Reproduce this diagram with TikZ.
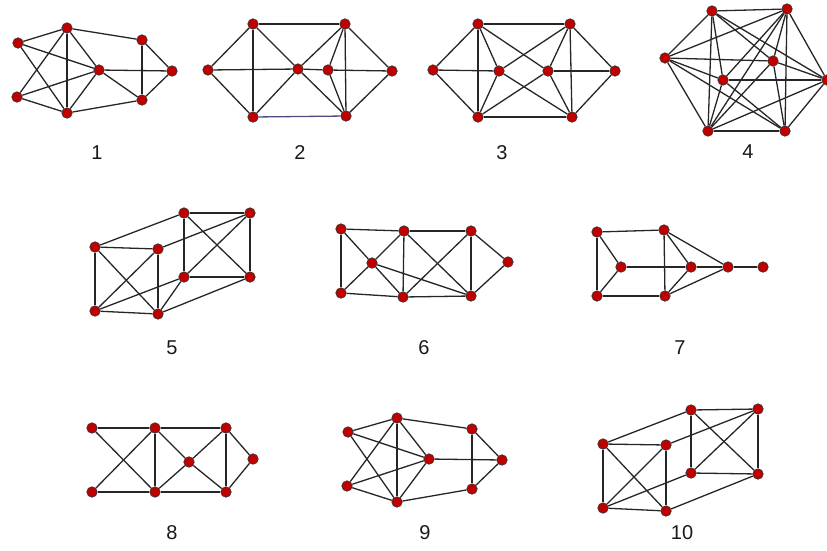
\documentclass[tikz,border=0pt]{standalone}
\usepackage{fontspec}
\setmainfont{Liberation Sans}
\tikzset{
  v/.style={circle, fill=nodered, draw=black!80, line width=0.6pt, inner sep=0pt, minimum size=10.5pt},
  e/.style={draw=black!85, line width=1.3pt},
  lab/.style={font=\fontsize{20}{21}\selectfont, text=black!90, inner sep=0pt}
}
\definecolor{nodered}{HTML}{C00000}
\begin{document}
\begin{tikzpicture}[x=1pt, y=-1pt]
\useasboundingbox (0,0) rectangle (827,550);
% Graph 1
\node[v] (aa) at (18,43) {};
\node[v] (ab) at (67,28) {};
\node[v] (ac) at (17,97) {};
\node[v] (ad) at (67,113) {};
\node[v] (ae) at (99,70) {};
\node[v] (af) at (142,40) {};
\node[v] (ag) at (142,100) {};
\node[v] (ah) at (172,71) {};
\foreach \p/\q in {aa/ab,aa/ae,aa/ad,ac/ab,ac/ae,ac/ad,ab/ad,ab/ae,ab/af,ad/ae,ad/ag,ae/ah,ae/ag,af/ag,af/ah,ag/ah}
  \draw[e] (\p) -- (\q);
\node[lab] (l1) at (97,153) {1};
% Graph 2
\node[v] (bl) at (208,70) {};
\node[v] (bt1) at (253,24) {};
\node[v] (bb1) at (253,117) {};
\node[v] (bc) at (298,69) {};
\node[v] (bt2) at (345,24) {};
\node[v] (bm) at (328,70) {};
\node[v] (bb2) at (346,116) {};
\node[v] (br) at (392,71) {};
\foreach \p/\q in {bl/bt1,bl/bb1,bl/bc,bc/bm,bm/br,bt1/bb1,bt1/bc,bt1/bt2,bb1/bc,bc/bt2,bc/bb2,bt2/bm,bt2/bb2,bt2/br,bm/bb2,bb2/br}
  \draw[e] (\p) -- (\q);
\draw[e, draw=blue!30!black!70] (bb1) -- (bb2);
\node[lab] (l2) at (300,153) {2};
% Graph 3
\node[v] (cl) at (433,70) {};
\node[v] (ct1) at (478,24) {};
\node[v] (cb1) at (478,117) {};
\node[v] (cc1) at (499,71) {};
\node[v] (cc2) at (548,71) {};
\node[v] (ct2) at (570,24) {};
\node[v] (cb2) at (572,117) {};
\node[v] (cr) at (615,71) {};
\foreach \p/\q in {cl/ct1,cl/cb1,cl/cc1,ct1/ct2,ct1/cb1,ct1/cc1,ct1/cc2,cb1/cc1,cb1/cb2,cb1/cc2,cc1/ct2,cc1/cb2,cc2/ct2,cc2/cb2,cc2/cr,ct2/cb2,ct2/cr,cb2/cr}
  \draw[e] (\p) -- (\q);
\node[lab] (l3) at (502,153) {3};
% Graph 4
\node[v] (da) at (712,11) {};
\node[v] (db) at (787,9) {};
\node[v] (dc) at (665,58) {};
\node[v] (dd) at (773,61) {};
\node[v] (de) at (723,80) {};
\node[v] (df) at (827,80) {};
\node[v] (dg) at (708,131) {};
\node[v] (dh) at (785,131) {};
\foreach \p/\q in {da/db,da/dc,da/dd,da/de,da/df,da/dg,db/dc,db/dd,db/de,db/df,db/dg,db/dh,dc/dd,dc/de,dc/dg,dc/dh,dd/df,dd/dg,dd/dh,de/df,de/dg,de/dh,df/dg,df/dh,dg/dh}
  \draw[e] (\p) -- (\q);
\node[lab] (l4) at (748,152) {4};
% Graph 5
\node[v] (ea) at (95,247) {};
\node[v] (eb) at (158,249) {};
\node[v] (ec) at (95,311) {};
\node[v] (ed) at (158,314) {};
\node[v] (ee) at (184,213) {};
\node[v] (ef) at (250,213) {};
\node[v] (eg) at (184,277) {};
\node[v] (eh) at (250,277) {};
\foreach \p/\q in {ea/eb,ea/ec,ea/ed,eb/ec,eb/ed,ec/ed,ea/ee,eb/ef,ec/eg,ed/eg,ed/eh,ee/ef,ee/eg,ee/eh,ef/eg,ef/eh,eg/eh}
  \draw[e] (\p) -- (\q);
\node[lab] (l5) at (172,348) {5};
% Graph 6
\node[v] (fa) at (341,229) {};
\node[v] (fb) at (404,231) {};
\node[v] (fc) at (471,231) {};
\node[v] (fd) at (372,263) {};
\node[v] (fe) at (508,262) {};
\node[v] (ff) at (341,293) {};
\node[v] (fg) at (403,297) {};
\node[v] (fh) at (471,296) {};
\foreach \p/\q in {fa/fb,fa/ff,fa/fd,fb/fd,fb/fc,fb/fg,fb/fh,fc/fg,fc/fh,fc/fe,fd/ff,fd/fg,fd/fh,ff/fg,fg/fh,fh/fe}
  \draw[e] (\p) -- (\q);
\node[lab] (l6) at (424,348) {6};
% Graph 7
\node[v] (ga) at (597,232) {};
\node[v] (gb) at (664,230) {};
\node[v] (gc) at (621,267) {};
\node[v] (gd) at (691,267) {};
\node[v] (ge) at (728,267) {};
\node[v] (gf) at (763,267) {};
\node[v] (gg) at (597,296) {};
\node[v] (gh) at (665,296) {};
\foreach \p/\q in {ga/gb,ga/gc,ga/gg,gg/gc,gg/gh,gb/gh,gb/gd,gb/ge,gc/gd,gd/ge,ge/gf,gh/gd,gh/ge}
  \draw[e] (\p) -- (\q);
\node[lab] (l7) at (680,348) {7};
% Graph 8
\node[v] (ha) at (92,428) {};
\node[v] (hb) at (155,428) {};
\node[v] (hc) at (226,428) {};
\node[v] (hd) at (189,462) {};
\node[v] (he) at (253,459) {};
\node[v] (hf) at (92,492) {};
\node[v] (hg) at (155,492) {};
\node[v] (hh) at (226,492) {};
\foreach \p/\q in {ha/hb,ha/hg,hf/hb,hf/hg,hb/hg,hb/hc,hb/hd,hc/hd,hc/hh,hc/he,hd/hg,hd/hh,hg/hh,hh/he}
  \draw[e] (\p) -- (\q);
\node[lab] (l8) at (172,533) {8};
% Graph 9
\node[v] (ia) at (348,432) {};
\node[v] (ib) at (397,418) {};
\node[v] (ic) at (347,486) {};
\node[v] (id) at (397,502) {};
\node[v] (ie) at (429,459) {};
\node[v] (if) at (472,429) {};
\node[v] (ig) at (472,489) {};
\node[v] (ih) at (502,460) {};
\foreach \p/\q in {ia/ib,ia/ie,ia/id,ic/ib,ic/ie,ic/id,ib/id,ib/ie,ib/if,id/ie,id/ig,ie/ih,if/ig,if/ih,ig/ih}
  \draw[e] (\p) -- (\q);
\node[lab] (l9) at (425,533) {9};
% Graph 10
\node[v] (ja) at (603,444) {};
\node[v] (jb) at (666,445) {};
\node[v] (jc) at (603,508) {};
\node[v] (jd) at (666,511) {};
\node[v] (je) at (691,410) {};
\node[v] (jf) at (758,409) {};
\node[v] (jg) at (691,473) {};
\node[v] (jh) at (758,474) {};
\foreach \p/\q in {ja/jb,ja/jc,ja/jd,jb/jc,jb/jd,jc/jd,ja/je,jb/jf,jc/jg,jd/jh,je/jf,je/jg,je/jh,jf/jg,jf/jh,jg/jh}
  \draw[e] (\p) -- (\q);
\node[lab] (l10) at (682,533) {10};
\end{tikzpicture}
\end{document}
